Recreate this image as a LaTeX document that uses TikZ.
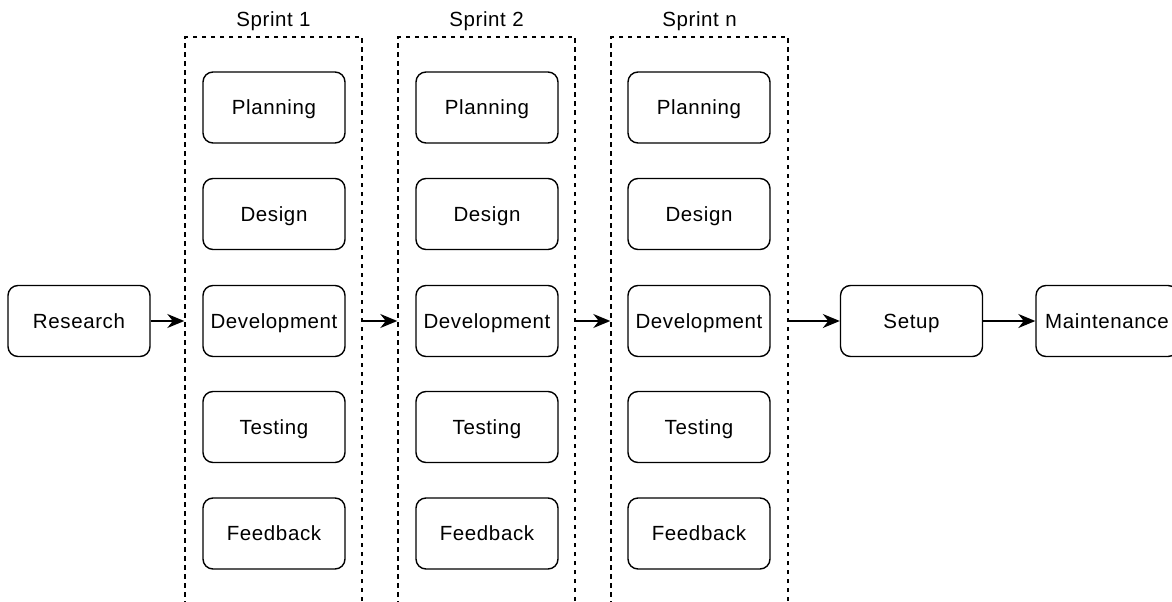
\documentclass[tikz,border=0pt]{standalone}
\usepackage{fontspec}
\setmainfont{Liberation Sans}[LetterSpace=3]
\usetikzlibrary{arrows.meta,calc}
\begin{document}
\begin{tikzpicture}[x=1pt,y=-1pt,
  stage/.style={draw,line width=1.4pt,rounded corners=10pt,minimum width=142pt,
    minimum height=71pt,inner sep=0pt,text height=14.5pt,text depth=0pt,
    font=\fontsize{20.5}{24}\selectfont},
  sprintbox/.style={draw,dashed,dash pattern=on 4.5pt off 4.5pt,line width=1.4pt,
    minimum width=177pt,minimum height=603pt,inner sep=0pt},
  sprintlabel/.style={font=\fontsize{20.5}{24}\selectfont,inner sep=0pt,
    text height=14.5pt,text depth=0pt},
  flow/.style={line width=1.5pt,-{Stealth[length=17pt,width=14pt,inset=5.5pt]}}]
\useasboundingbox (0,0) rectangle (1172,602);
\clip (0,0) rectangle (1172,602);
\fill[white] (0,0) rectangle (1172,602);

% sprint containers, open at the bottom edge
\foreach \n/\x/\t in {s1/273.5/Sprint 1,s2/486.5/Sprint 2,s3/699.5/Sprint n}{
  \node[sprintbox] (\n) at (\x,338.5) {};
  \node[sprintlabel] (\n-label) at (\x,18.8) {\t};
}

% activities inside each sprint
\foreach \n/\x in {s1/274,s2/487,s3/699}{
  \node[stage] (\n-plan) at (\x,107.5) {Planning};
  \node[stage] (\n-design) at (\x,214) {Design};
  \node[stage] (\n-dev) at (\x,321) {Development};
  \node[stage] (\n-test) at (\x,427) {Testing};
  \node[stage] (\n-feed) at (\x,533.5) {Feedback};
}

\node[stage] (research) at (79,321) {Research};
\node[stage] (setup) at (911.5,321) {Setup};
\node[stage] (maint) at (1107,321) {Maintenance};

\draw[flow] (research.east) -- (research.east -| s1.west);
\draw[flow] (s1.east |- s1-dev) -- (s2.west |- s1-dev);
\draw[flow] (s2.east |- s2-dev) -- (s3.west |- s2-dev);
\draw[flow] (s3.east |- setup) -- (setup.west);
\draw[flow] (setup.east) -- (maint.west);
\end{tikzpicture}
\end{document}
